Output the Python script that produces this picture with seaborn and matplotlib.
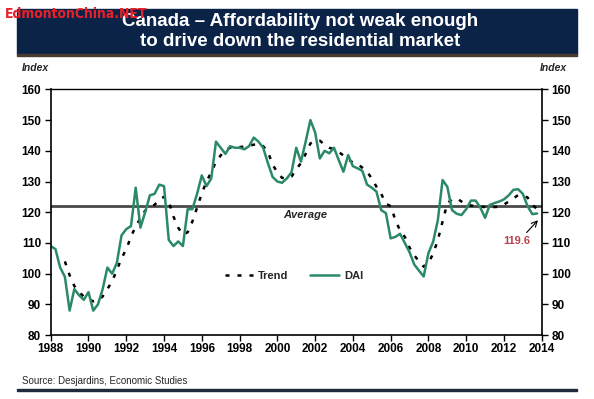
import numpy as np
import pandas as pd
import matplotlib
matplotlib.use("Agg")
import matplotlib.pyplot as plt
import seaborn as sns

sns.set_style("white")
plt.rcParams['font.family'] = ['Liberation Sans', 'DejaVu Sans']

# quarterly Desjardins affordability index, 1988Q1 - 2013Q4
dai = [109, 108, 102, 99,
       88, 95, 93, 91.5,
       94, 88, 90, 95,
       102, 100, 103.5, 112.5,
       114.5, 115.5, 128, 115,
       120, 125.5, 126, 129,
       128.5, 111, 109, 110.5,
       109, 121, 121, 126,
       132, 128.5, 131, 143,
       141, 139, 141.5, 141,
       141, 140.5, 141.5, 144.3,
       143, 141, 136, 131.5,
       130, 129.6, 131, 133,
       141, 136.5, 143, 150,
       146, 137.5, 140, 139.2,
       141, 137, 133.2, 138.6,
       135, 134.3, 133.5, 129,
       128, 126.7, 120.7, 119.7,
       111.5, 112, 113, 110,
       107, 103, 101, 99.1,
       106.7, 110.4, 117.5, 130.5,
       128.3, 120.7, 119.5, 119.1,
       121, 123.8, 123.8, 121.5,
       118.2, 122.4, 123, 123.5,
       124.2, 125.5, 127.3, 127.5,
       126, 122, 119.4, 119.6]

# trend starts in 1988Q4
trend = [104,
         99.5, 96, 94, 92.6,
         91.8, 91, 91.2, 92.6,
         95, 97.5, 101.2, 105,
         108, 112, 115.5, 118,
         120.5, 121.8, 122.4, 124.2,
         125, 123.5, 118.6, 115,
         112.7, 113.5, 117, 121.5,
         126.2, 130, 133, 136.5,
         138.5, 140.3, 141, 141.1,
         141.2, 141.4, 141.6, 142,
         142.4, 141.5, 139.7, 135.5,
         133, 131.2, 131, 131.6,
         134, 136, 139, 142.4,
         143.2, 143.3, 142, 141,
         140.5, 139.6, 138.5, 137.2,
         136.2, 135.7, 134.5, 133.2,
         131, 128.3, 126, 122.8,
         122, 117.5, 114, 112,
         108.5, 106, 104, 102.3,
         103.5, 106.5, 111, 117,
         122.9, 124.2, 124.5, 123.5,
         122.4, 122.2, 122, 121.8,
         121.7, 121.6, 121.7, 121.8,
         122.5, 123.5, 124.5, 125.6,
         125.5, 124.8, 122.5, 121]

average = 122.2
last_value = 119.6
years = np.arange(1988, 2015, 2)
yticks = np.arange(80, 161, 10)

t_dai = 1988 + np.arange(len(dai)) * 0.25
t_trend = 1988.75 + np.arange(len(trend)) * 0.25
df_dai = pd.DataFrame({'year': t_dai, 'value': dai})
df_trend = pd.DataFrame({'year': t_trend, 'value': trend})

green = '#2b8a66'
navy = '#0c2348'

fig = plt.figure(figsize=(5.94, 3.99), dpi=100)
ax = fig.add_axes([0.0854, 0.160, 0.8266, 0.616])

sns.lineplot(data=df_trend, x='year', y='value', ax=ax, color='black',
             linewidth=1.8, label='Trend')
ax.lines[-1].set_dashes((1.6, 3.2))
sns.lineplot(data=df_dai, x='year', y='value', ax=ax, color=green,
             linewidth=1.8, label='DAI')
ax.axhline(average, color='#4a4a4a', linewidth=2, zorder=1)
ax.text(2001.5, average - 1.4, 'Average', ha='center', va='top',
        fontsize=8, fontweight='bold', fontstyle='italic')

ax.set_xlim(1988, 2014)
ax.set_ylim(80, 160)
ax.set_xticks(years)
ax.set_yticks(yticks)
ax.set_xlabel('')
ax.set_ylabel('')
ax.tick_params(axis='both', labelsize=8.5, length=4, width=1, colors='black',
               direction='out', bottom=True, left=True, right=True,
               labelright=True, pad=2)
ax.tick_params(axis='y', pad=3)
for lab in ax.get_xticklabels() + ax.get_yticklabels():
    lab.set_fontweight('bold')
for sp in ax.spines.values():
    sp.set_color('black')
    sp.set_linewidth(1.2)
ax.spines['top'].set_linewidth(1)

leg = ax.legend(loc='center', bbox_to_anchor=(0.495, 0.24), ncol=2, frameon=False,
                fontsize=8, handlelength=2.6, columnspacing=2.0, handletextpad=0.4)
for t in leg.get_texts():
    t.set_fontweight('bold')

ax.text(2012.7, 110.6, f'{last_value}', color='#b8434f', fontsize=8,
        fontweight='bold', ha='center', va='center')
ax.annotate('', xy=(2013.8, 117.4), xytext=(2013.2, 113.4),
            arrowprops=dict(arrowstyle='->', color='black', lw=0.8,
                            shrinkA=0, shrinkB=0))

# header banner
fig.patches.append(plt.Rectangle((17 / 594, 1 - 54 / 399), 560 / 594, 45 / 399,
                                 transform=fig.transFigure, color=navy, zorder=0))
fig.patches.append(plt.Rectangle((17 / 594, 1 - 56 / 399), 560 / 594, 2.5 / 399,
                                 transform=fig.transFigure, color='#4a3a30', zorder=0))
fig.text(300 / 594, 1 - 21 / 399, 'Canada – Affordability not weak enough',
         color='white', fontsize=13.5, fontweight='bold', ha='center', va='center')
fig.text(300 / 594, 1 - 42 / 399, 'to drive down the residential market',
         color='white', fontsize=13.5, fontweight='bold', ha='center', va='center')
fig.text(5 / 594, 1 - 14 / 399, 'EdmontonChina.NET', color='#e8202a', fontsize=10,
         fontweight='bold', ha='left', va='center', fontstretch='condensed',
         family=['DejaVu Sans'])

fig.text(22 / 594, 1 - 68 / 399, 'Index', fontsize=7.5, fontweight='bold',
         fontstyle='italic', ha='left', va='center')
fig.text(567 / 594, 1 - 68 / 399, 'Index', fontsize=7.5, fontweight='bold',
         fontstyle='italic', ha='right', va='center')
fig.text(22 / 594, 1 - 381 / 399, 'Source: Desjardins, Economic Studies',
         fontsize=7, ha='left', va='center')
fig.patches.append(plt.Rectangle((17 / 594, 1 - 391 / 399), 560 / 594, 2 / 399,
                                 transform=fig.transFigure, color='#1c2a3c', zorder=0))

fig.savefig('out.png', dpi=100)
